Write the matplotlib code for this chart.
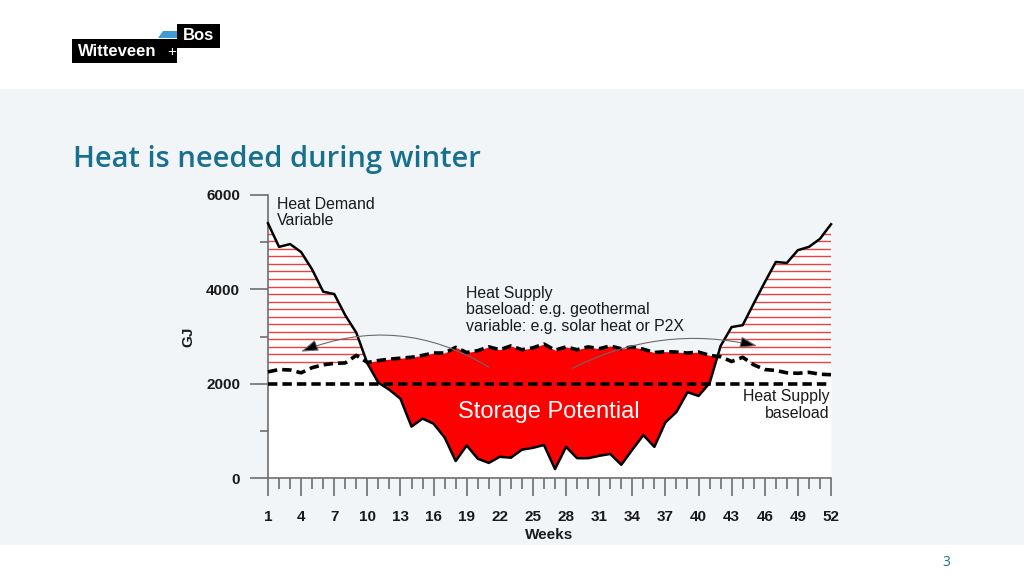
import numpy as np
import matplotlib.pyplot as plt
from matplotlib.patches import Rectangle, Polygon
from matplotlib.path import Path

# weekly values (GJ)
weeks = np.arange(1, 53)
heat_demand = np.array([5400, 4900, 4960, 4790, 4420, 3950, 3900, 3450, 3080, 2430,
                        2020, 1870, 1680, 1090, 1260, 1150, 860, 360, 690, 410,
                        320, 450, 430, 600, 640, 700, 190, 660, 420, 420,
                        470, 510, 280, 600, 910, 660, 1180, 1400, 1820, 1740,
                        2010, 2800, 3200, 3240, 3700, 4150, 4580, 4560, 4830, 4900,
                        5070, 5380])
supply_variable = np.array([2250, 2300, 2290, 2230, 2340, 2400, 2430, 2440, 2600, 2450,
                            2490, 2520, 2540, 2560, 2600, 2650, 2650, 2770, 2660, 2700,
                            2780, 2720, 2800, 2720, 2760, 2840, 2710, 2780, 2720, 2780,
                            2740, 2800, 2740, 2780, 2730, 2660, 2680, 2670, 2650, 2670,
                            2600, 2570, 2470, 2560, 2400, 2300, 2280, 2230, 2220, 2240,
                            2200, 2190])
supply_baseload = 2000
week_labels = [1, 4, 7, 10, 13, 16, 19, 22, 25, 28, 31, 34, 37, 40, 43, 46, 49, 52]
gj_ticks = [0, 2000, 4000, 6000]
gj_minor = [1000, 3000, 5000]
hatch_levels = np.arange(2460, 5500, 160)

W, H = 1024, 576
fig = plt.figure(figsize=(W / 100, H / 100), dpi=100, facecolor='white')

# slide background band
fig.patches.append(Rectangle((0, 1 - 545 / H), 1, (545 - 89) / H, transform=fig.transFigure,
                             facecolor='#f2f5f8', edgecolor='none', zorder=-5))

# logo
fig.patches.append(Rectangle((72 / W, 1 - 63 / H), 105 / W, 24 / H, transform=fig.transFigure,
                             facecolor='black', edgecolor='none', zorder=-1))
fig.patches.append(Rectangle((177 / W, 1 - 48 / H), 43 / W, 24 / H, transform=fig.transFigure,
                             facecolor='black', edgecolor='none', zorder=-1))
fig.patches.append(Polygon([(158 / W, 1 - 38 / H), (163 / W, 1 - 31 / H), (177 / W, 1 - 31 / H),
                            (177 / W, 1 - 38 / H)], closed=True, transform=fig.transFigure,
                           facecolor='#3d9bd6', edgecolor='none', zorder=-1))
fig.text(78 / W, 1 - 51 / H, 'Witteveen', color='white', fontsize=12, fontweight='bold',
         family='Liberation Sans', va='center', ha='left')
fig.text(172 / W, 1 - 52 / H, '+', color='white', fontsize=11, family='Liberation Sans',
         va='center', ha='center')
fig.text(199 / W, 1 - 36 / H, 'Bos', color='white', fontsize=12, fontweight='bold',
         family='Liberation Sans', va='center', ha='center')

# title and page number
fig.text(73 / W, 1 - 167 / H, 'Heat is needed during winter', color='#17708e', fontsize=21,
         fontweight='semibold', family='Open Sans', va='baseline', ha='left')
fig.text(946 / W, 1 - 562 / H, '3', color='#17708e', fontsize=10, family='Open Sans',
         va='center', ha='center')

ax = fig.add_axes([268 / W, 1 - 478 / H, (831 - 268) / W, (478 - 195) / H])
ax.patch.set_visible(False)
ax.set_xlim(1, 52)
ax.set_ylim(0, 6000)

# white area under the curves
ax.fill_between(weeks, 0, np.maximum(heat_demand, supply_variable), color='white',
                lw=0, zorder=0.5)

# demand above supply: red horizontal lines
hatch_area = ax.fill_between(weeks, supply_variable, heat_demand,
                             where=heat_demand >= supply_variable, interpolate=True,
                             facecolor='none', edgecolor='none')
clip = Path.make_compound_path(*hatch_area.get_paths())
for lvl in hatch_levels:
    ln = ax.axhline(lvl, color='#ee4040', lw=1.0, zorder=1)
    ln.set_clip_path(clip, ax.transData)

# storage potential
ax.fill_between(weeks, heat_demand, supply_variable, where=supply_variable >= heat_demand,
                interpolate=True, color='#ff0000', lw=0, zorder=2)

ax.plot([weeks[0], weeks[-1]], [supply_baseload, supply_baseload], color='black', lw=2.6,
        dashes=(2.6, 1.4), zorder=3, clip_on=False)
ax.plot(weeks, supply_variable, color='black', lw=2.6, dashes=(2.6, 1.4), zorder=4,
        clip_on=False)
ax.plot(weeks, heat_demand, color='black', lw=1.8, zorder=5, clip_on=False)
ax.vlines(weeks[-1], 0, heat_demand[-1], color='#9a9a9a', lw=0.8, zorder=1)

# arrows
ax.annotate('', xy=(4.0, 2680), xytext=(21, 2350), zorder=6,
            arrowprops=dict(arrowstyle='-|>,head_length=0.75,head_width=0.25', mutation_scale=14,
                            edgecolor='#6a6a6a', facecolor='black', lw=0.8,
                            connectionstyle='arc3,rad=0.25', shrinkA=0, shrinkB=0))
ax.annotate('', xy=(45.3, 2800), xytext=(28.6, 2330), zorder=6,
            arrowprops=dict(arrowstyle='-|>,head_length=0.75,head_width=0.25', mutation_scale=14,
                            edgecolor='#6a6a6a', facecolor='black', lw=0.8,
                            connectionstyle='arc3,rad=-0.18', shrinkA=0, shrinkB=0))

# texts
txt = dict(family='Liberation Sans', color='#1a1a1a', fontsize=11.4, zorder=7)
ax.text(1.8, 5960, 'Heat Demand\nVariable', va='top', ha='left', linespacing=1.1, **txt)
ax.text(18.9, 4070, 'Heat Supply\nbaseload: e.g. geothermal\nvariable: e.g. solar heat or P2X',
        va='top', ha='left', linespacing=1.12, **txt)
ax.text(51.9, 1880, 'Heat Supply\nbaseload', va='top', ha='right', multialignment='right',
        linespacing=1.1, **txt)
ax.text(26.4, 1400, 'Storage Potential', color='white', fontsize=17, family='Liberation Sans',
        va='center', ha='center', zorder=7)

# axes styling
for s in ['top', 'right']:
    ax.spines[s].set_visible(False)
for s in ['left', 'bottom']:
    ax.spines[s].set_color('#6e6e6e')
    ax.spines[s].set_linewidth(1.2)

ax.set_yticks(gj_ticks)
ax.set_yticks(gj_minor, minor=True)
ax.set_xticks(week_labels)
ax.set_xticks([w for w in weeks if w not in week_labels], minor=True)
ax.tick_params(axis='both', which='major', length=13, width=1.2, color='#6e6e6e')
ax.tick_params(axis='y', which='minor', length=6, width=1.2, color='#6e6e6e')
ax.tick_params(axis='x', which='minor', length=8, width=1.2, color='#6e6e6e')
ax.tick_params(axis='x', which='major', pad=10)
ax.tick_params(axis='y', which='major', pad=7)
for lab in ax.get_xticklabels() + ax.get_yticklabels():
    lab.set_fontweight('bold')
    lab.set_fontsize(11)
    lab.set_family('Liberation Sans')
    lab.set_color('#1a1a1a')

ax.set_xlabel('Weeks', fontsize=11, fontweight='bold', family='Liberation Sans',
              color='#1a1a1a', labelpad=3)
ax.set_ylabel('GJ', fontsize=11, fontweight='bold', family='Liberation Sans',
              color='#1a1a1a', labelpad=8)

fig.savefig('out.png', dpi=100, facecolor=fig.get_facecolor())
